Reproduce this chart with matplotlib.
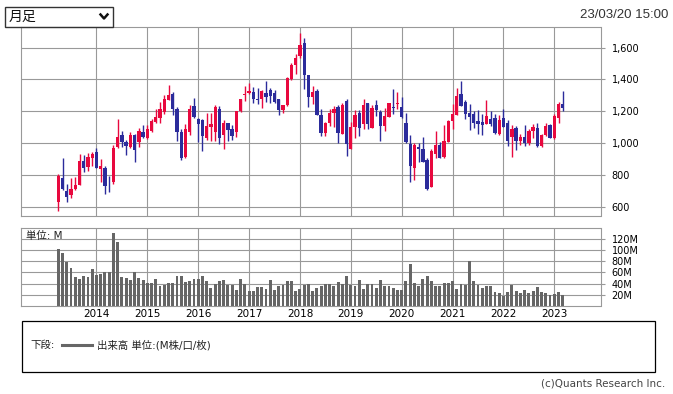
import numpy as np
import pandas as pd
import matplotlib
matplotlib.use("Agg")
import matplotlib.pyplot as plt
from matplotlib.patches import Rectangle
from matplotlib.lines import Line2D

plt.rcParams['font.family'] = ['DejaVu Sans', 'Noto Sans CJK JP']

# --- data: monthly candles Apr 2013 - Mar 2023 ---
first_month = "2013-04"

opens = [627, 779, 700, 671, 713, 738, 888, 852, 908, 944, 835, 842, 750, 752, 977, 1048,
         1008, 975, 1050, 1008, 1069, 1033, 1077, 1133, 1158, 1196, 1269, 1306, 1217, 1067,
         915, 1067, 1233, 1154, 1144, 1033, 1102, 1071, 1213, 1050, 1123, 1088, 1071, 1200,
         1302, 1313, 1319, 1279, 1275, 1317, 1335, 1313, 1275, 1206, 1238, 1400, 1494, 1550,
         1629, 1425, 1290, 1325, 1175, 1065, 1125, 1190, 1225, 1060, 1263, 963, 1098, 1188,
         1121, 1250, 1096, 1242, 1194, 1108, 1165, 1227, 1246, 1225, 1129, 994, 846, 975,
         963, 894, 721, 929, 988, 913, 1008, 1138, 1175, 1306, 1258, 1192, 1181, 1138, 1131,
         1119, 1154, 1160, 1056, 1160, 1129, 1040, 1094, 1013, 1038, 1002, 1075, 1094, 983,
         1050, 1113, 1029, 1158, 1244]
highs = [804, 904, 742, 779, 788, 929, 925, 940, 946, 967, 900, 858, 790, 987, 1150, 1075,
         1019, 1067, 1058, 1092, 1113, 1113, 1150, 1212, 1258, 1300, 1362, 1321, 1227, 1088,
         1117, 1237, 1281, 1158, 1154, 1192, 1188, 1237, 1231, 1148, 1127, 1113, 1204, 1279,
         1356, 1379, 1350, 1346, 1335, 1388, 1348, 1333, 1279, 1242, 1415, 1502, 1558, 1692,
         1658, 1429, 1356, 1342, 1213, 1133, 1213, 1233, 1237, 1254, 1275, 1133, 1206, 1206,
         1279, 1254, 1238, 1269, 1206, 1221, 1254, 1338, 1321, 1290, 1192, 1050, 998, 998,
         1038, 904, 963, 1075, 1004, 1113, 1144, 1244, 1346, 1388, 1269, 1244, 1200, 1206,
         1181, 1269, 1200, 1183, 1175, 1217, 1142, 1113, 1106, 1060, 1113, 1088, 1117, 1125,
         1060, 1125, 1117, 1183, 1258, 1325]
lows = [571, 706, 629, 654, 702, 738, 815, 821, 856, 842, 758, 679, 690, 742, 971, 977,
        925, 971, 879, 975, 1029, 1025, 1071, 1123, 1123, 1185, 1269, 1175, 1012, 894,
        904, 1050, 1158, 1008, 950, 1019, 1012, 1012, 992, 963, 1012, 1019, 1040, 1196,
        1263, 1308, 1254, 1248, 1221, 1258, 1254, 1254, 1175, 1192, 1233, 1398, 1435, 1533,
        1338, 1227, 1244, 1175, 1044, 1044, 1108, 1102, 1002, 1054, 921, 963, 1029, 1046,
        1088, 1086, 1092, 1171, 1013, 1075, 1165, 1185, 1213, 1160, 1000, 758, 769, 883,
        879, 706, 721, 904, 904, 908, 1004, 1088, 1175, 1233, 1150, 1081, 1096, 1056,
        1050, 1119, 1106, 1060, 1050, 1102, 983, 915, 956, 988, 983, 988, 1033, 977,
        977, 1044, 1029, 1025, 1127, 1200]
closes = [790, 713, 658, 713, 738, 888, 846, 913, 931, 846, 856, 727, 746, 967, 1035, 1008,
          983, 1050, 958, 1075, 1040, 1088, 1138, 1165, 1217, 1275, 1300, 1217, 1067, 908,
          1088, 1217, 1163, 1121, 1046, 1106, 1121, 1227, 1033, 1129, 1081, 1046, 1200, 1275,
          1306, 1329, 1275, 1271, 1325, 1292, 1296, 1258, 1206, 1238, 1408, 1492, 1538, 1619,
          1431, 1290, 1321, 1179, 1065, 1125, 1192, 1217, 1065, 1238, 992, 1100, 1175, 1096,
          1238, 1121, 1219, 1206, 1108, 1171, 1250, 1221, 1254, 1165, 1004, 858, 988, 965,
          883, 713, 950, 988, 908, 1013, 1138, 1183, 1294, 1233, 1183, 1163, 1127, 1121,
          1113, 1169, 1119, 1065, 1144, 1102, 1013, 1088, 1013, 1038, 1002, 1075, 1100, 983,
          1050, 1106, 1033, 1169, 1244, 1221]
# volume in millions
volumes = [102, 94, 79, 68, 52, 49, 54, 52, 66, 56, 57, 60, 60, 130, 115, 52, 50, 47, 60, 50,
           47, 41, 41, 49, 36, 38, 41, 41, 54, 54, 43, 45, 49, 49, 54, 45, 33, 40, 45, 47,
           38, 38, 29, 49, 39, 27, 27, 34, 34, 31, 47, 29, 36, 38, 45, 45, 26, 31, 38, 40,
           27, 33, 36, 40, 40, 35, 43, 39, 54, 38, 35, 47, 31, 39, 39, 33, 47, 36, 36, 33,
           29, 29, 45, 75, 41, 36, 48, 54, 45, 35, 35, 41, 41, 45, 31, 40, 38, 80, 45, 38,
           33, 36, 36, 25, 24, 18, 25, 38, 27, 24, 29, 24, 27, 34, 25, 24, 20, 22, 25, 20]

year_labels = ["2014", "2015", "2016", "2017", "2018", "2019", "2020", "2021", "2022", "2023"]
price_ticks = [600, 800, 1000, 1200, 1400, 1600]
volume_ticks = [20, 40, 60, 80, 100, 120]

UP = '#e8083e'
DOWN = '#2b2b9b'
GRID = '#999999'

months = pd.period_range(first_month, periods=len(opens), freq='M')
x = np.arange(len(months))
year_pos = [i for i, m in enumerate(months) if str(m.year) in year_labels and m.month == 1]

o = np.array(opens, float)
h = np.array(highs, float)
l = np.array(lows, float)
c = np.array(closes, float)
colors = np.where(c >= o, UP, DOWN)

W, H = 673, 394
fig = plt.figure(figsize=(W / 100, H / 100), dpi=100)


def box(left, top, right, bottom):
    return [left / W, 1 - bottom / H, (right - left) / W, (bottom - top) / H]


def fx(px):
    return px / W


def fy(py):
    return 1 - py / H


def style_axes(a):
    for s in a.spines.values():
        s.set_color(GRID)
        s.set_linewidth(0.8)
    a.grid(True, color=GRID, linewidth=0.8)
    a.set_axisbelow(True)
    a.set_xlim(-8.8, 127.9)
    a.set_xticks(year_pos)
    a.yaxis.tick_right()
    a.tick_params(axis='y', length=3, width=0.8, color=GRID, pad=5, labelsize=7)
    a.tick_params(axis='x', length=0)


# --- price panel ---
ax = fig.add_axes(box(21, 27, 600.5, 216))
style_axes(ax)
ax.set_ylim(541, 1730)
ax.set_yticks(price_ticks)
ax.set_yticklabels([f"{v:,}" for v in price_ticks])
ax.set_xticklabels([])
ax.vlines(x, l, h, colors=colors, linewidth=1.0, zorder=2)
ax.bar(x, np.maximum(np.abs(c - o), 5), bottom=np.minimum(o, c), width=0.78,
       color=colors, linewidth=0, zorder=3)

# --- volume panel ---
axv = fig.add_axes(box(21, 227.7, 600.5, 306))
style_axes(axv)
axv.set_ylim(0, 140)
axv.set_yticks(volume_ticks)
axv.set_yticklabels([f"{v}M" for v in volume_ticks])
axv.set_xticklabels(year_labels, fontsize=7.5)
axv.tick_params(axis='x', pad=2.5)
axv.bar(x, volumes, width=0.68, color='#666666', linewidth=0, zorder=2)
axv.text(fx(26), fy(236), "単位: M", transform=fig.transFigure, fontsize=7.5,
         va='center', ha='left', color='#222222')

# --- header ---
fig.add_artist(Rectangle((fx(5), fy(27)), fx(108), 20 / H, transform=fig.transFigure,
                         fill=False, edgecolor='#333333', linewidth=1.0))
fig.text(fx(9), fy(17), "月足", fontsize=10, va='center', ha='left', color='#111111')
fig.add_artist(Line2D([fx(100.5), fx(104), fx(107.5)], [fy(14.5), fy(18.5), fy(14.5)],
                      transform=fig.transFigure, color='#111111', linewidth=1.8))
fig.text(fx(668), fy(15), "23/03/20 15:00", fontsize=9.5, family='Liberation Sans',
         va='center', ha='right', color='#333333')

# --- legend box ---
fig.add_artist(Rectangle((fx(21.5), fy(372)), fx(633.5), 51 / H, transform=fig.transFigure,
                         fill=False, edgecolor='#000000', linewidth=0.9))
fig.text(fx(30), fy(345), "下段:", fontsize=7.5, va='center', ha='left', color='#222222')
fig.add_artist(Line2D([fx(62), fx(92)], [fy(345), fy(345)], transform=fig.transFigure,
                      color='#666666', linewidth=2.2))
fig.text(fx(97), fy(345), "出来高 単位:(M株/口/枚)", fontsize=7.5, va='center', ha='left',
         color='#222222')

fig.text(fx(665), fy(383), "(c)Quants Research Inc.", fontsize=7.5, va='center', ha='right',
         color='#444444')

fig.savefig("out.png", dpi=100)
